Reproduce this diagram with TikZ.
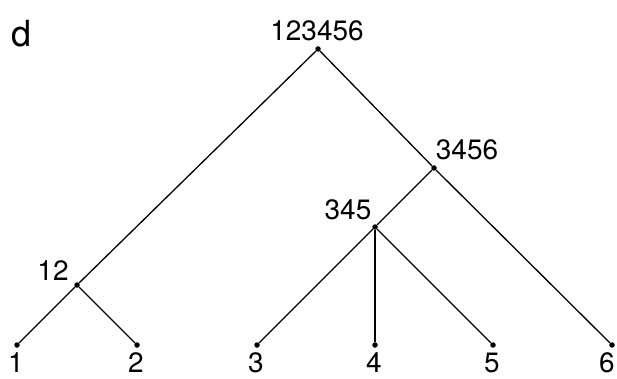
\documentclass[tikz,border=0pt]{standalone}
\usepackage{fontspec}
\setmainfont{TeX Gyre Heros}
\begin{document}
\begin{tikzpicture}[x=1pt,y=-1pt,
  dot/.style={circle,fill,inner sep=0pt,minimum size=5.5pt},
  lab/.style={font=\fontsize{28}{34}\selectfont,inner sep=0pt},
  branch/.style={line width=1.3pt}]
\useasboundingbox (0,0) rectangle (617,379);
\node[lab,font=\fontsize{36}{40}\selectfont] (panel) at (22,34) {d};

\node[dot] (n123456) at (318,49) {};
\node[dot] (n3456) at (434,168) {};
\node[dot] (n345) at (375,227) {};
\node[dot] (n12) at (77,285) {};
\node[lab] (t123456) at (317,31) {123456};
\node[lab] (t3456) at (467,150) {3456};
\node[lab] (t345) at (348,210) {345};
\node[lab] (t12) at (53,271) {12};

\foreach \i/\x/\tx in {1/17/16,2/137/136,3/257/256,4/375/374,5/493/492,6/612/607}{
  \node[dot] (l\i) at (\x,345) {};
  \node[lab] (t\i) at (\tx,363) {\i};
}

\draw[branch] (n123456) -- (n12);
\draw[branch] (n123456) -- (n3456);
\draw[branch] (n3456) -- (n345);
\draw[branch] (n3456) -- (l6);
\draw[branch] (n12) -- (l1);
\draw[branch] (n12) -- (l2);
\draw[branch] (n345) -- (l3);
\draw[branch] (n345) -- (l4);
\draw[branch] (n345) -- (l5);
\end{tikzpicture}
\end{document}
